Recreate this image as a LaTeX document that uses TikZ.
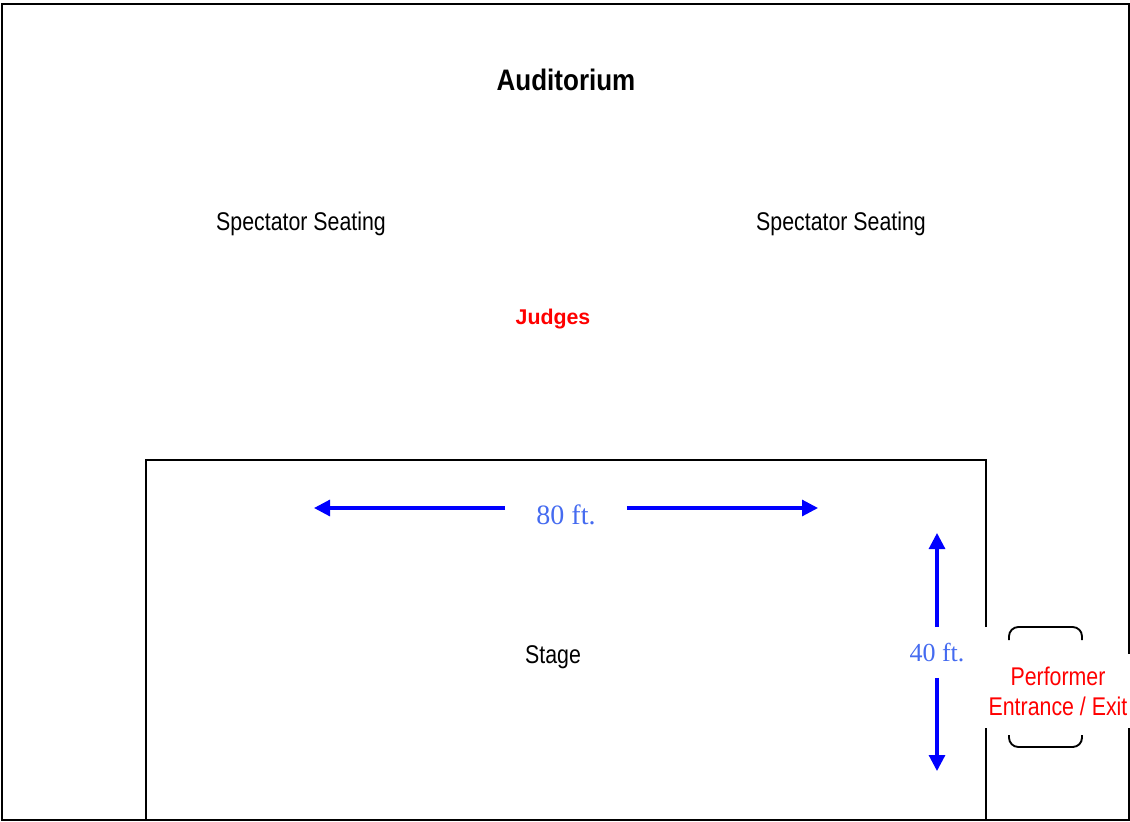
\documentclass[tikz,border=0pt]{standalone}
\usepackage{graphicx}
\usepackage{fontspec}
\setmainfont{Liberation Sans}
\newfontfamily\dimfont{Liberation Serif}
\definecolor{Black}{rgb}{0.0,0.0,0.0}
\definecolor{DimBlue}{rgb}{0.27,0.42,0.94}
\definecolor{ArrowBlue}{rgb}{0.0,0.0,1.0}
\definecolor{JudgeRed}{rgb}{1.0,0.0,0.0}
\usetikzlibrary{arrows.meta, positioning, calc}
\newcommand{\tall}[1]{\scalebox{1}[1.2]{#1}}

\begin{document}
\begin{tikzpicture}[x=0.75pt,y=-0.75pt,
    wall/.style={draw=Black,line width=1.7pt},
    dimtext/.style={font=\dimfont, text=DimBlue, inner sep=0pt},
    dimarrow/.style={ArrowBlue,line width=2.3pt,-{Triangle[length=12pt,width=12pt]}},
    label/.style={font=\fontsize{16}{22.5}\selectfont, inner sep=0pt}]

    \useasboundingbox (0,0) rectangle (1130,821);

    % auditorium walls
    \draw[wall] (2,4) rectangle (1129,820);

    % stage, with the door gap on the right
    \draw[wall] (986,627) -- (986,460) -- (146,460) -- (146,820) -- (986,820) -- (986,725);

    % texts
    \node (title) [label, font=\fontsize{19.5}{23}\selectfont\bfseries] at (566,80) {\scalebox{1}[1.14]{Auditorium}};
    \node (seatL) [label] at (301,224) {\tall{Spectator Seating}};
    \node (seatR) [label] at (841,224) {\tall{Spectator Seating}};
    \node (judges) [label, font=\fontsize{16}{19}\selectfont\bfseries, text=JudgeRed] at (553,319) {Judges};
    \node (stage) [label] at (553,657) {\tall{Stage}};

    % performer entrance / exit
    \node (door) [label, fill=white, text=JudgeRed, align=center,
        minimum height=56pt, minimum width=110pt] at (1058,691)
        {\tall{Performer}\\\tall{Entrance / Exit}};
    \draw[Black, line width=1.4pt, rounded corners=7pt]
        (1009,640) -- (1009,627) -- (1082,627) -- (1082,640);
    \draw[Black, line width=1.4pt, rounded corners=7pt]
        (1009,735) -- (1009,747) -- (1082,747) -- (1082,735);

    % 80 ft. width
    \coordinate (w80l) at (314,508);
    \coordinate (w80r) at (818,508);
    \node (w80) [dimtext, font=\dimfont\fontsize{21}{24}\selectfont, minimum width=91pt] at (566,514.5) {80 ft.};
    \draw[dimarrow] (w80.west |- w80l) -- (w80l);
    \draw[dimarrow] (w80.east |- w80r) -- (w80r);

    % 40 ft. depth
    \coordinate (h40t) at (937,533);
    \coordinate (h40b) at (937,771);
    \node (h40) [dimtext, font=\dimfont\fontsize{19.5}{22}\selectfont, minimum height=37.5pt] at (937,652.5) {40 ft.};
    \draw[dimarrow] (h40.north -| h40t) -- (h40t);
    \draw[dimarrow] (h40.south -| h40b) -- (h40b);

\end{tikzpicture}
\end{document}
